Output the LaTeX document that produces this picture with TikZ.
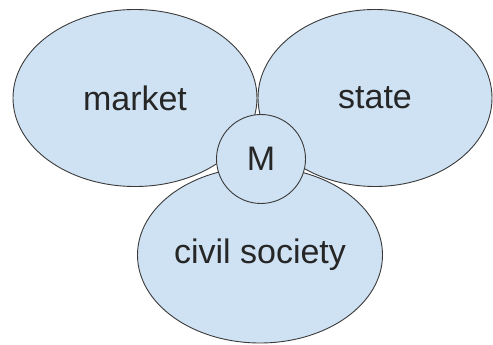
\documentclass[tikz,border=0pt]{standalone}
\usepackage{fontspec}
\setmainfont{Liberation Sans}
\usetikzlibrary{shapes.geometric}
\definecolor{sphereblue}{HTML}{CFE2F3}
\definecolor{edgegray}{HTML}{3A3A3A}
\begin{document}
\begin{tikzpicture}[x=1pt, y=1pt,
    sphere/.style={ellipse, draw=edgegray, fill=sphereblue, line width=0.9pt,
      inner sep=0pt, font=\fontsize{34}{40}\selectfont, text=black!85},
    hub/.style={circle, draw=edgegray, fill=sphereblue, line width=0.9pt,
      inner sep=0pt, minimum size=89pt, font=\fontsize{34}{40}\selectfont, text=black!85}]
    \useasboundingbox (0,0) rectangle (493,345);

    % The three spheres
    \node[sphere, minimum width=245pt, minimum height=176pt] (civil) at (260,90) {civil society};
    \node[sphere, minimum width=244pt, minimum height=177pt] (market) at (135,247) {market};
    \node[sphere, minimum width=234pt, minimum height=177pt] (state) at (375,247) {state};

    % Where they meet
    \node[hub] (mid) at (261,186) {M};
\end{tikzpicture}
\end{document}
